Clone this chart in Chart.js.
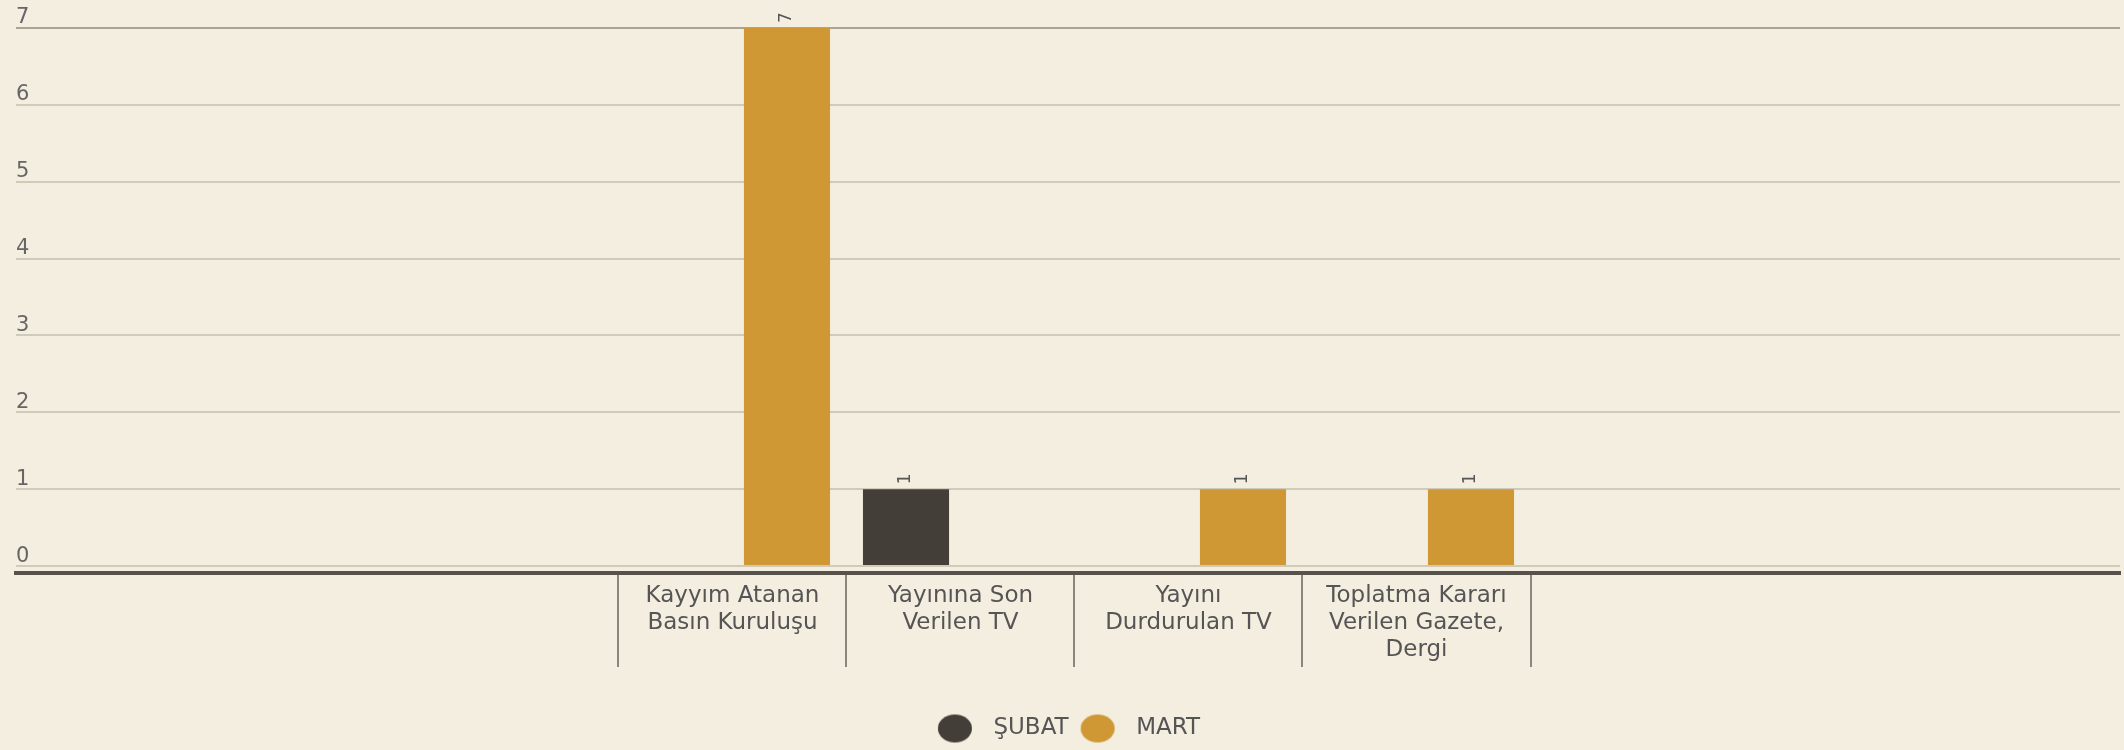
<!DOCTYPE html>
<html>
<head>
<meta charset="utf-8">
<script src="https://cdn.jsdelivr.net/npm/chart.js@4/dist/chart.umd.min.js"></script>
<style>
    html, body { margin: 0; padding: 0; background: #f4eee0; }
    #wrap { width: 2124px; height: 750px; position: relative; }
</style>
</head>
<body>
<div id="wrap"><canvas id="myChart"></canvas></div>
<script>
// categories (already split into lines as in the picture)
const categories = [
    ['Kayyım Atanan', 'Basın Kuruluşu'],
    ['Yayınına Son', 'Verilen TV'],
    ['Yayını', 'Durdurulan TV'],
    ['Toplatma Kararı', 'Verilen Gazete,', 'Dergi']
];
const seriesNames = ['ŞUBAT', 'MART'];
const seriesColors = ['#433e38', '#cf9834'];
const subat = [null, 1, null, null];
const mart = [7, null, 1, 1];
const yTicks = [0, 1, 2, 3, 4, 5, 6, 7];

const toPoints = (arr) => arr.map((v, i) => ({x: i, y: v}));

Chart.defaults.font.family = '"DejaVu Sans", sans-serif';
Chart.defaults.color = '#5a5a5a';

// legend dot: an ellipse with some empty room on its right
function legendDot(color) {
    const cv = document.createElement('canvas');
    cv.width = 46;
    cv.height = 30;
    const g = cv.getContext('2d');
    g.fillStyle = color;
    g.beginPath();
    g.ellipse(19, 15, 17, 14, 0, 0, Math.PI * 2);
    g.fill();
    return cv;
}
const legendDots = seriesColors.map(legendDot);

// rotated value labels above bars
const barValueLabels = {
    id: 'barValueLabels',
    afterDatasetsDraw(chart) {
        const c = chart.ctx;
        chart.data.datasets.forEach((ds, di) => {
            chart.getDatasetMeta(di).data.forEach((bar, i) => {
                const v = ds.data[i].y;
                if (v === null || v === undefined) return;
                c.save();
                c.translate(bar.x, bar.y - 5);
                c.rotate(-Math.PI / 2);
                c.font = '17px "DejaVu Sans", sans-serif';
                c.fillStyle = '#555';
                c.textAlign = 'left';
                c.textBaseline = 'middle';
                c.fillText(String(v), 0, 0);
                c.restore();
            });
        });
    }
};

var ctx = document.getElementById('myChart');
var myChart = new Chart(ctx, {
    type: 'bar',
    data: {
        datasets: [{
            label: seriesNames[0],
            data: toPoints(subat),
            backgroundColor: seriesColors[0],
            borderWidth: 0,
            barPercentage: 0.79,
            categoryPercentage: 0.956
        }, {
            label: seriesNames[1],
            data: toPoints(mart),
            backgroundColor: seriesColors[1],
            borderWidth: 0,
            barPercentage: 0.79,
            categoryPercentage: 0.956
        }]
    },
    options: {
        responsive: true,
        maintainAspectRatio: false,
        animation: false,
        layout: {
            padding: {left: 16, right: 4, top: 28, bottom: 0}
        },
        plugins: {
            legend: {
                position: 'bottom',
                labels: {
                    usePointStyle: true,
                    pointStyleWidth: 46,
                    boxHeight: 20,
                    padding: 10,
                    color: '#555',
                    font: {size: 23},
                    generateLabels: (chart) => Chart.defaults.plugins.legend.labels.generateLabels(chart)
                        .map((item, i) => Object.assign(item, {pointStyle: legendDots[i]}))
                }
            },
            tooltip: {enabled: false}
        },
        scales: {
            x: {
                type: 'linear',
                offset: false,
                min: -3.1425,
                max: 6.0855,
                afterBuildTicks: (scale) => {
                    scale.ticks = categories.map((c, i) => ({value: i}));
                },
                afterFit: (scale) => {
                    scale.height = 134;
                },
                ticks: {
                    autoSkip: false,
                    maxRotation: 0,
                    padding: -85,
                    color: '#555',
                    font: {size: 23, lineHeight: 1.18},
                    callback: (value, index) => categories[index]
                },
                grid: {
                    offset: true,
                    drawOnChartArea: false,
                    tickLength: 94,
                    color: '#8c877c',
                    lineWidth: 2
                },
                border: {
                    color: '#57524b',
                    width: 4
                }
            },
            y: {
                min: -0.09,
                max: 7,
                afterBuildTicks: (scale) => {
                    scale.ticks = yTicks.map(v => ({value: v}));
                },
                ticks: {
                    mirror: true,
                    padding: 0,
                    labelOffset: -10,
                    color: '#666',
                    font: {size: 21}
                },
                grid: {
                    drawTicks: false,
                    lineWidth: 2,
                    color: (c) => c.tick && c.tick.value === 7 ? '#a9a496' : '#cfcab9'
                },
                border: {display: false}
            }
        }
    },
    plugins: [barValueLabels]
});
</script>
</body>
</html>
